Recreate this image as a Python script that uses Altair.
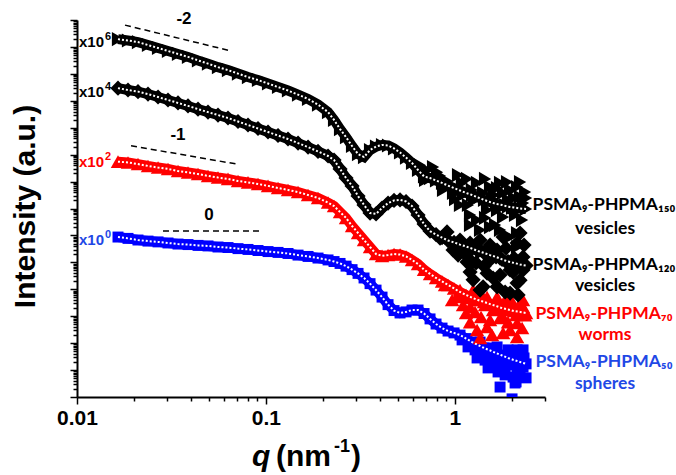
import altair as alt
import pandas as pd

# ---------------- data ----------------
q = [0.01648, 0.01862, 0.02103, 0.02376, 0.02685, 0.03032, 0.03425, 0.03869, 0.04371, 0.04937,
     0.05577, 0.06300, 0.07116, 0.08038, 0.09081, 0.1026, 0.1159, 0.1309, 0.1479, 0.1671,
     0.1887, 0.2132, 0.2294, 0.2468, 0.2655, 0.2857, 0.3073, 0.3306, 0.3557, 0.3827,
     0.4117, 0.4430, 0.4765, 0.5127, 0.5516, 0.5934, 0.6384, 0.6871, 0.7390, 0.7951,
     0.8554, 0.9204, 0.9903, 1.065, 1.146, 1.233, 1.327, 1.427, 1.536, 1.652,
     1.778, 1.912, 2.058, 2.214, 2.382]

# log10 of (offset) intensity, a.u.
log_I_150 = [13.29, 13.24, 13.18, 13.07, 12.96, 12.85, 12.74, 12.63, 12.50, 12.38,
             12.25, 12.14, 12.01, 11.88, 11.77, 11.64, 11.51, 11.38, 11.23, 11.07,
             10.86, 10.58, 10.29, 9.95, 9.65, 9.32, 9.02, 8.91, 9.17, 9.30,
             9.36, 9.34, 9.23, 9.08, 8.89, 8.69, 8.43, 8.19, 8.13, 8.04,
             7.95, 7.85, 7.76, 7.67, 7.58, 7.50, 7.41, 7.32, 7.24, 7.17,
             7.13, 7.07, 7.04, 7.00, 6.98]
log_I_120 = [11.47, 11.40, 11.34, 11.25, 11.14, 11.03, 10.92, 10.81, 10.69, 10.58,
             10.47, 10.36, 10.23, 10.10, 9.97, 9.84, 9.71, 9.58, 9.43, 9.28,
             9.12, 8.95, 8.80, 8.47, 8.13, 7.84, 7.46, 7.13, 6.83, 6.80,
             7.02, 7.20, 7.30, 7.32, 7.26, 7.09, 6.76, 6.42, 6.16, 6.03,
             5.92, 5.81, 5.74, 5.66, 5.59, 5.51, 5.42, 5.35, 5.27, 5.20,
             5.11, 5.03, 4.98, 4.92, 4.88]
log_I_70 = [8.74, 8.71, 8.65, 8.58, 8.52, 8.47, 8.39, 8.34, 8.28, 8.21,
            8.15, 8.10, 8.02, 7.97, 7.91, 7.84, 7.76, 7.69, 7.61, 7.50,
            7.39, 7.22, 7.09, 6.87, 6.65, 6.35, 6.09, 5.83, 5.57, 5.31,
            5.24, 5.27, 5.31, 5.29, 5.22, 5.09, 4.94, 4.73, 4.57, 4.42,
            4.29, 4.16, 4.03, 3.90, 3.79, 3.69, 3.60, 3.53, 3.45, 3.38,
            3.30, 3.25, 3.19, 3.16, 3.12]
log_I_50 = [5.94, 5.89, 5.83, 5.79, 5.76, 5.72, 5.68, 5.66, 5.63, 5.61,
            5.57, 5.55, 5.51, 5.48, 5.44, 5.40, 5.37, 5.33, 5.27, 5.22,
            5.16, 5.09, 5.03, 4.96, 4.86, 4.73, 4.59, 4.42, 4.21, 3.97,
            3.71, 3.43, 3.21, 3.12, 3.16, 3.23, 3.23, 3.10, 2.90, 2.71,
            2.56, 2.45, 2.38, 2.30, 2.17, 2.04, 1.93, 1.82, 1.73, 1.63,
            1.54, 1.45, 1.37, 1.30, 1.23]

# scattered high-q points
noise_q_150 = [0.713, 0.767, 0.835, 0.909, 0.978, 1.04, 1.09, 1.16, 1.23, 1.31, 1.36, 1.445,
               1.536, 1.613, 1.673, 1.80, 1.89, 1.96, 2.058, 2.135, 2.214, 2.296, 2.353, 1.481,
               1.673, 1.311, 1.36, 1.536, 1.735, 1.96, 2.135, 2.135, 2.269, 2.008, 1.80, 1.204, 1.065,
               0.654, 0.696, 0.805, 0.866, 0.943, 1.003, 1.105, 1.174, 1.264, 1.411, 1.574, 1.735,
               1.845, 2.083, 2.214, 2.382, 1.912, 1.633, 1.445, 1.204]
noise_logI_150 = [8.43, 8.54, 8.21, 8.02, 7.58, 8.24, 7.95, 8.10, 7.69, 7.95, 7.43, 8.10,
                  7.80, 7.50, 7.76, 7.58, 7.98, 7.69, 7.39, 7.80, 7.43, 7.20, 7.61, 6.94,
                  6.94, 6.57, 6.20, 6.31, 6.20, 5.94, 6.09, 5.57, 6.57, 7.02, 6.68, 6.76, 7.13,
                  8.61, 8.06, 8.35, 7.69, 7.87, 7.35, 7.50, 7.13, 7.32, 7.58, 7.35, 7.95,
                  7.13, 6.76, 7.98, 7.39, 7.32, 6.39, 6.65, 6.39]
noise_q_120 = [1.105, 1.204, 1.249, 1.295, 1.36, 1.411, 1.481, 1.536, 1.673, 1.673, 1.80,
               1.89, 1.96, 2.135, 2.135, 2.214, 2.296, 2.296, 1.16, 1.04, 1.735, 2.033,
               0.835, 0.909, 0.978, 1.065, 1.146, 1.233, 1.327, 1.427, 1.536, 1.593, 1.735,
               1.867, 1.960, 2.058, 2.214, 2.324, 1.360, 1.845, 2.161, 1.204]
noise_logI_120 = [5.46, 5.72, 4.35, 4.98, 5.83, 4.09, 4.60, 5.09, 4.09, 5.46, 5.94,
                  4.98, 3.86, 4.23, 5.72, 6.09, 4.72, 5.20, 5.01, 5.27, 4.53, 4.64,
                  5.90, 6.13, 5.46, 5.83, 5.27, 5.01, 5.53, 4.86, 5.64, 4.42, 5.16,
                  5.53, 4.72, 5.16, 4.34, 5.64, 3.97, 3.90, 3.79, 4.64]
noise_q_70 = [1.027, 1.146, 1.204, 1.249, 1.311, 1.311, 1.376, 1.481, 1.481, 1.593, 1.673,
              1.80, 1.80, 1.96, 1.96, 1.96, 2.135, 2.135, 2.214, 2.296, 2.296, 2.109,
              0.887, 0.967, 1.065, 1.105, 1.174, 1.279, 1.360, 1.445, 1.536, 1.633, 1.735,
              1.845, 1.912, 2.033, 2.161, 2.269, 2.353, 1.574, 1.360, 1.204]
noise_logI_70 = [3.71, 3.12, 3.34, 3.97, 3.60, 2.49, 2.97, 2.60, 3.71, 3.23, 3.71,
                 2.38, 2.97, 2.49, 3.23, 3.68, 2.75, 2.23, 3.49, 3.34, 3.60, 3.05,
                 4.16, 3.60, 3.97, 3.42, 3.68, 3.16, 3.90, 3.42, 2.86, 3.49, 2.93,
                 3.60, 2.78, 3.42, 3.16, 2.56, 3.04, 2.30, 2.19, 2.78]
noise_q_50 = [1.204, 1.311, 1.481, 1.593, 1.673, 1.735, 1.80, 1.80, 1.96, 2.033, 2.083,
              2.135, 2.135, 2.269, 2.296, 2.296, 2.008,
              1.092, 1.174, 1.279, 1.360, 1.445, 1.536, 1.633, 1.735, 1.845, 1.912, 2.008,
              2.109, 2.214, 2.324, 2.382, 1.693, 1.499]
noise_logI_50 = [2.01, 1.45, 1.75, 1.37, 1.86, 0.37, 1.00, 1.26, 1.26, 0.74, 0.52,
                 0.89, 1.75, 1.37, 1.11, 1.75, -0.07,
                 2.12, 1.86, 1.75, 2.04, 1.37, 1.82, 1.19, 1.56, 0.82, 1.75, 1.19,
                 0.56, 0.93, 1.45, 0.71, 0.93, 1.08]

# power-law guide lines (q start/end, log10 I start/end) and their labels
guide_names = ["-2", "-1", "0"]
guide_q = [[0.01795, 0.06457], [0.01932, 0.07004], [0.02852, 0.09502]]
guide_logI = [[13.81, 12.86], [9.33, 8.65], [6.16, 6.16]]
guide_label_q = [0.03685, 0.03425, 0.04997]
guide_label_logI = [14.04, 9.73, 6.76]

# multiplier labels  x10^n
mult_exp = ["6", "4", "2", "0"]
mult_q = [0.01407, 0.01407, 0.01407, 0.01407]
mult_logI = [13.18, 11.33, 8.73, 5.83]
mult_color = ["black", "black", "#ff0000", "#1f48e6"]

series_names = ["PSMA9-PHPMA50 spheres", "PSMA9-PHPMA70 worms",
                "PSMA9-PHPMA120 vesicles", "PSMA9-PHPMA150 vesicles"]
series_colors = ["#0000ff", "#ff0000", "#000000", "#000000"]
series_shapes = ["square", "triangle-up", "diamond", "triangle-right"]
series_sizes = [120, 210, 230, 200]
series_main = [log_I_50, log_I_70, log_I_120, log_I_150]
series_noise_q = [noise_q_50, noise_q_70, noise_q_120, noise_q_150]
series_noise_I = [noise_logI_50, noise_logI_70, noise_logI_120, noise_logI_150]

label_lines = [("PSMA\u2089-PHPMA\u2081\u2085\u2080", "black", 604, 205),
               ("vesicles", "black", 605, 229),
               ("PSMA\u2089-PHPMA\u2081\u2082\u2080", "black", 604, 264.5),
               ("vesicles", "black", 605, 285.5),
               ("PSMA\u2089-PHPMA\u2087\u2080", "#ff0000", 604, 313.5),
               ("worms", "#ff0000", 605, 334.5),
               ("PSMA\u2089-PHPMA\u2085\u2080", "#1f48e6", 604, 361.5),
               ("spheres", "#1f48e6", 605, 383.5)]

x_ticks = [0.01, 0.02, 0.03, 0.04, 0.05, 0.06, 0.07, 0.08, 0.09,
           0.1, 0.2, 0.3, 0.4, 0.5, 0.6, 0.7, 0.8, 0.9, 1, 2, 3]
y_ticks = [m * 10 ** k for k in range(14) for m in range(1, 10)] + [10 ** 14]

# ---------------- chart ----------------
LEFT, TOP = 77, 20
W, H = 468, 377

xs = alt.Scale(type="log", domain=[0.01, 3], nice=False)
ys = alt.Scale(type="log", domain=[1, 1e14], nice=False)

x_axis = alt.Axis(
    values=x_ticks, title=None, grid=False,
    labelExpr="datum.value == 0.01 ? '0.01' : (datum.value == 0.1 ? '0.1' : (datum.value == 1 ? '1' : ''))",
    labelFont="Liberation Sans", labelFontWeight="bold", labelFontSize=21, labelColor="black",
    labelFlush=False, labelOverlap=False, labelPadding=3,
    tickSize={"condition": {"test": "datum.value == 0.01 || datum.value == 0.1 || datum.value == 1", "value": 7}, "value": 4},
    tickColor="black", tickWidth=1.5, domainColor="black", domainWidth=2)
y_axis = alt.Axis(
    values=y_ticks, title=None, grid=False, labels=False,
    tickSize={"condition": {"test": "abs(log(datum.value)/LN10 - round(log(datum.value)/LN10)) < 0.000001", "value": 7}, "value": 4},
    tickColor="black", tickWidth=1.5, domainColor="black", domainWidth=2)

X = alt.X("q:Q", scale=xs, axis=x_axis)
Y = alt.Y("I:Q", scale=ys, axis=y_axis)

layers = []
fits = []
for name, col, shp, sz, main, nq, nI in zip(series_names, series_colors, series_shapes, series_sizes,
                                             series_main, series_noise_q, series_noise_I):
    dmain = pd.DataFrame({"q": q, "I": [10 ** v for v in main], "series": name})
    dnoise = pd.DataFrame({"q": nq, "I": [10 ** v for v in nI], "series": name})
    layers.append(alt.Chart(dmain).mark_line(color=col, strokeWidth=10, clip=True).encode(x=X, y=Y))
    layers.append(alt.Chart(dmain).mark_point(shape=shp, size=sz, filled=True, color=col, opacity=1,
                                              strokeWidth=0, clip=True).encode(x=X, y=Y))
    layers.append(alt.Chart(dnoise).mark_point(shape=shp, size=sz, filled=True, color=col, opacity=1,
                                               strokeWidth=0, clip=True).encode(x=X, y=Y))
    fits.append(alt.Chart(dmain).mark_line(color="white", strokeWidth=2, strokeDash=[2, 2],
                                           clip=True).encode(x=X, y=Y))
layers += fits

# guide lines
grows = []
for gname, gq, gI in zip(guide_names, guide_q, guide_logI):
    for qq, ii in zip(gq, gI):
        grows.append({"guide": gname, "q": qq, "I": 10 ** ii})
layers.append(alt.Chart(pd.DataFrame(grows)).mark_line(color="black", strokeWidth=1.5, strokeDash=[6, 4])
              .encode(x=X, y=Y, detail="guide:N"))
dgl = pd.DataFrame({"q": guide_label_q, "I": [10 ** v for v in guide_label_logI], "t": guide_names})
layers.append(alt.Chart(dgl).mark_text(font="Liberation Sans", fontWeight="bold", fontSize=17, color="black",
                                       align="center", baseline="middle")
              .encode(x=X, y=Y, text="t:N"))

# multiplier labels
dm = pd.DataFrame({"q": mult_q, "I": [10 ** v for v in mult_logI], "e": mult_exp, "c": mult_color})
layers.append(alt.Chart(dm).mark_text(font="Liberation Sans", fontWeight="bold", fontSize=15, align="right",
                                      baseline="middle", dx=-1, text="x10")
              .encode(x=X, y=Y, color=alt.Color("c:N", scale=None)))
layers.append(alt.Chart(dm).mark_text(font="Liberation Sans", fontWeight="bold", fontSize=11, align="left",
                                      baseline="middle", dx=0, dy=-5)
              .encode(x=X, y=Y, text="e:N", color=alt.Color("c:N", scale=None)))

one = alt.Data(values=[{}])
# series labels (right side)
for txt, col, px, py in label_lines:
    layers.append(alt.Chart(one).mark_text(font="Lato", fontWeight="bold", fontSize=17.5, color=col,
                                           align="center", baseline="middle")
                  .encode(x=alt.value(px - LEFT), y=alt.value(py - TOP), text=alt.value(txt)))

# axis titles
layers.append(alt.Chart(one).mark_text(font="Liberation Sans", fontWeight="bold", fontSize=30, angle=270,
                                       align="center", baseline="alphabetic", color="black")
              .encode(x=alt.value(35 - LEFT), y=alt.value(206.5 - TOP), text=alt.value("Intensity (a.u.)")))
xt = [("q", 252, 466, 30, "italic"), ("(nm", 276, 466, 30, "normal"),
      ("-1", 334, 452, 18, "normal"), (")", 351, 466, 30, "normal")]
for txt, px, py, fs, st in xt:
    layers.append(alt.Chart(one).mark_text(font="Liberation Sans", fontWeight="bold", fontSize=fs,
                                           fontStyle=st, align="left", baseline="alphabetic", color="black")
                  .encode(x=alt.value(px - LEFT), y=alt.value(py - TOP), text=alt.value(txt)))

chart = alt.layer(*layers).properties(
    width=W, height=H,
    autosize=alt.AutoSizeParams(type="none"),
    padding={"left": LEFT, "top": TOP, "right": 676 - LEFT - W, "bottom": 475 - TOP - H},
    background="white",
).configure_view(stroke=None)

chart.save("out.html", embed_options={"renderer": "svg", "actions": False})
